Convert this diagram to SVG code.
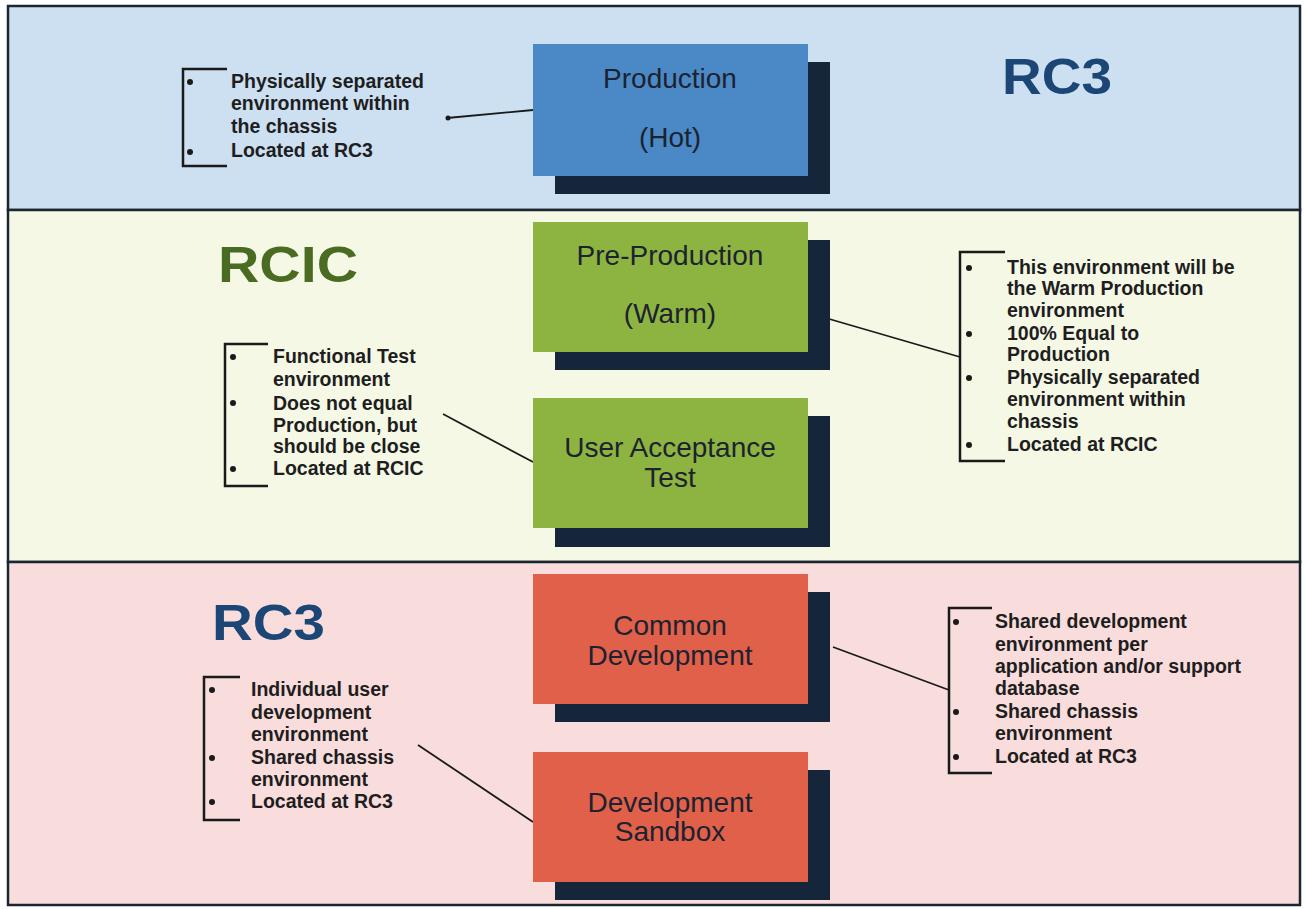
<svg xmlns="http://www.w3.org/2000/svg" width="1305" height="909" viewBox="0 0 1305 909">
<style>
.band{stroke:#1c2630;stroke-width:2.5}
.shadow{fill:#15253a}
.blue{fill:#4b89c6}
.green{fill:#8db440}
.red{fill:#e0604a}
.nl{font-family:"Liberation Sans",Arial,sans-serif;font-size:28px;fill:#1c2230;text-anchor:middle}
.bt{font-family:"Liberation Sans",Arial,sans-serif;font-size:19.5px;font-weight:bold;fill:#1e1e1e}
.big{font-family:"Liberation Sans",Arial,sans-serif;font-size:50px;font-weight:bold}
.br{fill:none;stroke:#1a1a1a;stroke-width:2.5}
.dot{fill:#1a1a1a}
.con{stroke:#1a1a1a;stroke-width:1.8;fill:none}
</style>
<rect width="1305" height="909" fill="#ffffff"/>
<g id="bands">
<rect class="band" x="8" y="6" width="1292" height="204" fill="#cce0f1"/>
<rect class="band" x="8" y="210" width="1292" height="352" fill="#f6f8e6"/>
<rect class="band" x="8" y="562" width="1292" height="343" fill="#f9dcdc"/>
</g>
<g id="labels">
<text class="big" x="1002" y="94" fill="#1c4676" textLength="110" lengthAdjust="spacingAndGlyphs">RC3</text>
<text class="big" x="218" y="282" fill="#4a6b22" textLength="140" lengthAdjust="spacingAndGlyphs">RCIC</text>
<text class="big" x="212" y="640" fill="#1c4676" textLength="113" lengthAdjust="spacingAndGlyphs">RC3</text>
</g>
<g id="connectors">
<line class="con" x1="447" y1="118" x2="533" y2="110"/>
<circle class="dot" cx="448" cy="118" r="2.5"/>
<line class="con" x1="443" y1="414" x2="533" y2="462"/>
<line class="con" x1="788" y1="307" x2="960" y2="357"/>
<line class="con" x1="418" y1="745" x2="533" y2="822"/>
<line class="con" x1="833" y1="647" x2="949" y2="690"/>
</g>
<g id="production">
<rect class="shadow" x="555" y="62" width="275" height="132"/>
<rect class="blue" x="533" y="44" width="275" height="132"/>
<text class="nl" x="670" y="88">Production</text>
<text class="nl" x="670" y="147">(Hot)</text>
</g>
<g id="preproduction">
<rect class="shadow" x="555" y="240" width="275" height="130"/>
<rect class="green" x="533" y="222" width="275" height="130"/>
<text class="nl" x="670" y="265">Pre-Production</text>
<text class="nl" x="670" y="323">(Warm)</text>
</g>
<g id="uat">
<rect class="shadow" x="555" y="416" width="275" height="131"/>
<rect class="green" x="533" y="398" width="275" height="130"/>
<text class="nl" x="670" y="457">User Acceptance</text>
<text class="nl" x="670" y="487">Test</text>
</g>
<g id="commondev">
<rect class="shadow" x="555" y="592" width="275" height="130"/>
<rect class="red" x="533" y="574" width="275" height="130"/>
<text class="nl" x="670" y="635">Common</text>
<text class="nl" x="670" y="665">Development</text>
</g>
<g id="sandbox">
<rect class="shadow" x="555" y="770" width="275" height="130"/>
<rect class="red" x="533" y="752" width="275" height="130"/>
<text class="nl" x="670" y="812">Development</text>
<text class="nl" x="670" y="841">Sandbox</text>
</g>
<g id="note-production">
<path class="br" d="M227,69 H183 V166 H227"/>
<circle class="dot" cx="190" cy="82" r="3"/>
<circle class="dot" cx="190" cy="152" r="3"/>
<text class="bt" x="231" y="88">Physically separated</text>
<text class="bt" x="231" y="110">environment within</text>
<text class="bt" x="231" y="133">the chassis</text>
<text class="bt" x="231" y="157">Located at RC3</text>
</g>
<g id="note-uat">
<path class="br" d="M268,344 H225 V486 H268"/>
<circle class="dot" cx="233" cy="357" r="3"/>
<circle class="dot" cx="233" cy="403" r="3"/>
<circle class="dot" cx="233" cy="469" r="3"/>
<text class="bt" x="273" y="363">Functional Test</text>
<text class="bt" x="273" y="386">environment</text>
<text class="bt" x="273" y="410">Does not equal</text>
<text class="bt" x="273" y="432">Production, but</text>
<text class="bt" x="273" y="453">should be close</text>
<text class="bt" x="273" y="475">Located at RCIC</text>
</g>
<g id="note-preproduction">
<path class="br" d="M1005,252 H960 V461 H1005"/>
<circle class="dot" cx="969" cy="268" r="3"/>
<circle class="dot" cx="969" cy="334" r="3"/>
<circle class="dot" cx="969" cy="378" r="3"/>
<circle class="dot" cx="969" cy="445" r="3"/>
<text class="bt" x="1007" y="274">This environment will be</text>
<text class="bt" x="1007" y="295">the Warm Production</text>
<text class="bt" x="1007" y="317">environment</text>
<text class="bt" x="1007" y="340">100% Equal to</text>
<text class="bt" x="1007" y="361">Production</text>
<text class="bt" x="1007" y="384">Physically separated</text>
<text class="bt" x="1007" y="406">environment within</text>
<text class="bt" x="1007" y="428">chassis</text>
<text class="bt" x="1007" y="451">Located at RCIC</text>
</g>
<g id="note-sandbox">
<path class="br" d="M240,677 H204 V820 H240"/>
<circle class="dot" cx="212" cy="690" r="3"/>
<circle class="dot" cx="212" cy="758" r="3"/>
<circle class="dot" cx="212" cy="802" r="3"/>
<text class="bt" x="251" y="696">Individual user</text>
<text class="bt" x="251" y="719">development</text>
<text class="bt" x="251" y="741">environment</text>
<text class="bt" x="251" y="764">Shared chassis</text>
<text class="bt" x="251" y="786">environment</text>
<text class="bt" x="251" y="808">Located at RC3</text>
</g>
<g id="note-commondev">
<path class="br" d="M992,608 H949 V773 H992"/>
<circle class="dot" cx="956" cy="622" r="3"/>
<circle class="dot" cx="956" cy="712" r="3"/>
<circle class="dot" cx="956" cy="757" r="3"/>
<text class="bt" x="995" y="628">Shared development</text>
<text class="bt" x="995" y="651">environment per</text>
<text class="bt" x="995" y="673">application and/or support</text>
<text class="bt" x="995" y="695">database</text>
<text class="bt" x="995" y="718">Shared chassis</text>
<text class="bt" x="995" y="740">environment</text>
<text class="bt" x="995" y="763">Located at RC3</text>
</g>
</svg>
